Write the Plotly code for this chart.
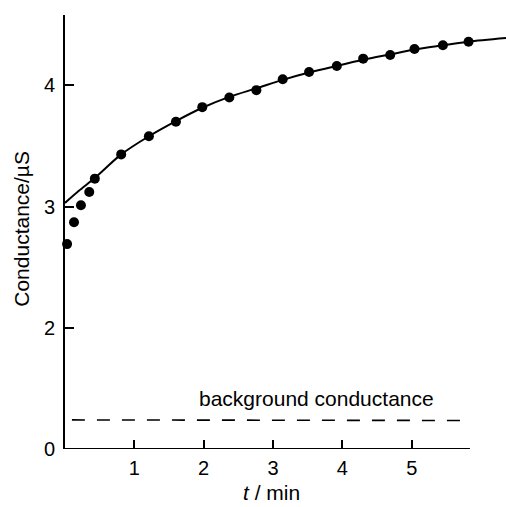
import plotly.graph_objects as go

# Measured conductance of the reacting solution against time
t_min = [0.03, 0.13, 0.23, 0.35, 0.43, 0.81, 1.21, 1.60, 1.98, 2.37, 2.76,
         3.14, 3.52, 3.92, 4.30, 4.69, 5.04, 5.45, 5.82]
cond_uS = [2.69, 2.87, 3.01, 3.12, 3.23, 3.43, 3.58, 3.70, 3.82, 3.90, 3.96,
           4.05, 4.11, 4.16, 4.22, 4.25, 4.30, 4.33, 4.36]

# Smooth fitted curve through the data
fit_t = [0.0, 0.2, 0.43, 0.81, 1.21, 1.60, 1.98, 2.37, 2.76, 3.14, 3.52,
         3.92, 4.30, 4.69, 5.04, 5.45, 5.82, 6.36]
fit_g = [3.03, 3.13, 3.235, 3.43, 3.58, 3.705, 3.815, 3.905, 3.975, 4.045,
         4.105, 4.16, 4.21, 4.255, 4.295, 4.33, 4.36, 4.39]

# Background conductance level (dashed)
bg_t = [0.10, 5.84]
bg_g = [0.24, 0.235]

x_ticks = [1, 2, 3, 4, 5]
y_ticks_upper = [2, 3, 4]
y_ticks_lower = [0]

FONT = "Liberation Sans"
FS_TEXT = 21
FS_TICK = 20

# broken y axis: lower panel 0..0.5, upper panel 1.5..4.58, same scale
lower_rng = [0, 0.5]
upper_rng = [1.5, 4.58]
span = (lower_rng[1] - lower_rng[0]) + (upper_rng[1] - upper_rng[0])
split = (lower_rng[1] - lower_rng[0]) / span

fig = go.Figure()

fig.add_trace(go.Scatter(
    x=fit_t, y=fit_g, mode="lines", xaxis="x", yaxis="y",
    line=dict(color="black", width=2, shape="spline", smoothing=0.8),
    hoverinfo="skip", showlegend=False))

fig.add_trace(go.Scatter(
    x=t_min, y=cond_uS, mode="markers", xaxis="x", yaxis="y",
    marker=dict(color="black", size=10), cliponaxis=False,
    showlegend=False))

fig.add_trace(go.Scatter(
    x=bg_t, y=bg_g, mode="lines", xaxis="x", yaxis="y2",
    line=dict(color="black", width=1.6, dash="13px,12px"),
    showlegend=False))

# x-axis baseline stops after the last tick
fig.add_shape(type="line", xref="x", yref="y2", x0=0, x1=5.84, y0=0, y1=0,
              line=dict(color="black", width=2))

fig.add_annotation(x=3.62, y=0.42, xref="x", yref="y2",
                   xanchor="center", yanchor="middle",
                   text="background conductance", showarrow=False,
                   font=dict(family=FONT, size=FS_TEXT, color="black"))

fig.add_annotation(x=(271 - 65) / 441, y=-0.101, xref="paper", yref="paper",
                   xanchor="center", yanchor="middle",
                   text="<i>t</i> / min", showarrow=False,
                   font=dict(family=FONT, size=FS_TEXT, color="black"))

fig.add_annotation(x=-0.098, y=0.507, xref="paper", yref="paper",
                   xanchor="center", yanchor="middle",
                   text="Conductance/µS", textangle=-90, showarrow=False,
                   font=dict(family=FONT, size=FS_TEXT, color="black"))

axis_common = dict(
    showgrid=False, zeroline=False, ticks="inside", ticklen=9,
    tickwidth=1.5, tickcolor="black", color="black",
    tickfont=dict(family=FONT, size=FS_TICK, color="black"))

fig.update_layout(
    width=506, height=507,
    margin=dict(l=65, r=0, t=15, b=58),
    paper_bgcolor="white", plot_bgcolor="white",
    xaxis=dict(range=[0, 6.36], domain=[0, 1], anchor="y2",
               tickvals=x_ticks, showline=False, ticklabelstandoff=5,
               **axis_common),
    yaxis=dict(range=upper_rng, domain=[split, 1], anchor="x",
               tickvals=y_ticks_upper, showline=True, linewidth=2,
               linecolor="black", ticklabelstandoff=4, **axis_common),
    yaxis2=dict(range=lower_rng, domain=[0, split], anchor="x",
                tickvals=y_ticks_lower, showline=True, linewidth=2,
                linecolor="black", ticklabelstandoff=4, **axis_common),
)

fig.write_html("out.html")
